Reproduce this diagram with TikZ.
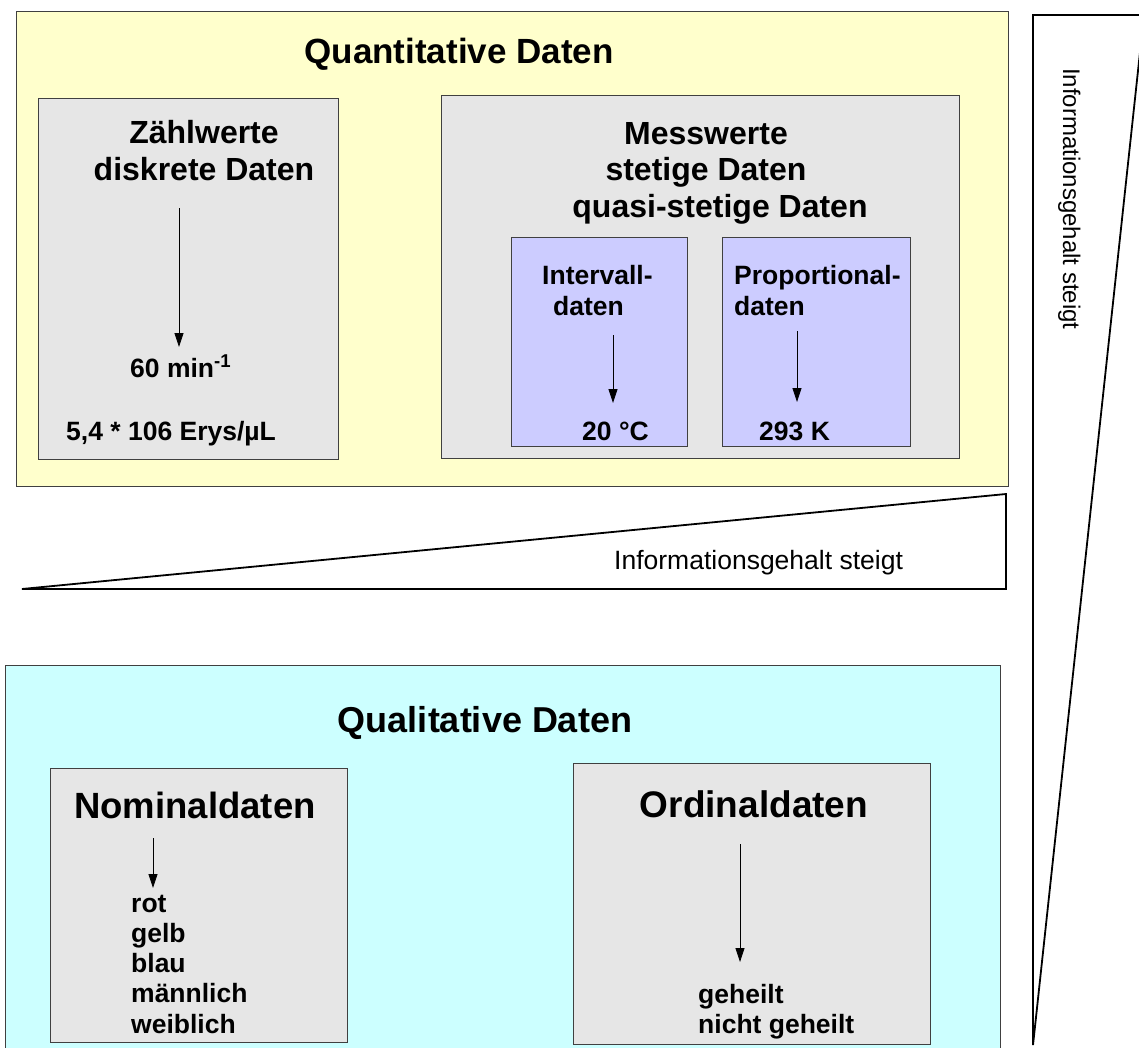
\documentclass[tikz,border=0pt]{standalone}
\usepackage{fontspec}
\setmainfont{Liberation Sans}
\usetikzlibrary{arrows.meta}

\definecolor{quantfill}{HTML}{FFFFCC}
\definecolor{qualfill}{HTML}{CCFFFF}
\definecolor{boxgrey}{HTML}{E6E6E6}
\definecolor{scalefill}{HTML}{CCCCFF}
\definecolor{edge}{HTML}{404040}

\begin{document}
\begin{tikzpicture}[x=1pt,y=-1pt,
  panel/.style={draw=edge, line width=1pt, inner sep=0pt, anchor=north west},
  title/.style={font=\fontsize{35}{40}\selectfont\bfseries, inner sep=0pt, anchor=base},
  head/.style={font=\fontsize{32}{36.5}\selectfont\bfseries, inner sep=0pt, align=center, anchor=base},
  label/.style={font=\fontsize{26.5}{30.5}\selectfont\bfseries, inner sep=0pt, align=left, anchor=base west},
  flow/.style={-{Triangle[length=14pt,width=9pt]}, line width=0.8pt},
  wedge/.style={draw=black, line width=1.8pt, line join=miter},
  note/.style={font=\fontsize{26.5}{30}\selectfont, inner sep=0pt}
]
\useasboundingbox (0,0) rectangle (1139,1047);
\clip (0,0) rectangle (1139,1047);

% ---- quantitative data ----
% (multi-line nodes are anchored at the baseline of their last line)
\node[panel, fill=quantfill, minimum width=992pt, minimum height=475pt] (quant) at (16,11) {};
\node[title] (quanttitle) at (459,63) {Quantitative Daten};

\node[panel, fill=boxgrey, minimum width=300pt, minimum height=361pt] (count) at (38,98) {};
\node[head] (counthead) at (204,180) {Zählwerte\\diskrete Daten};
\node[label] (countval) at (130,377) {60 min\textsuperscript{-1}};
\node[label] (countery) at (66,440) {5,4 * 106 Erys/µL};

\node[panel, fill=boxgrey, minimum width=518pt, minimum height=363pt] (measure) at (441,95) {};
\node[head] (measurehead) at (706,217) {Messwerte\\stetige Daten\\\hspace*{28pt}quasi-stetige Daten};

\node[panel, fill=scalefill, minimum width=176pt, minimum height=209pt] (interval) at (511,237) {};
\node[label] (intervalhead) at (542,315) {Intervall-\\\hspace*{11pt}daten};
\node[label] (intervalval) at (582,440) {20 °C};

\node[panel, fill=scalefill, minimum width=188pt, minimum height=209pt] (ratio) at (722,237) {};
\node[label] (ratiohead) at (734,315) {Proportional-\\daten};
\node[label] (ratioval) at (759,440) {293 K};

% ---- qualitative data ----
\node[panel, fill=qualfill, minimum width=995pt, minimum height=400pt] (qual) at (5,665) {};
\node[title, font=\fontsize{36}{41}\selectfont\bfseries] (qualtitle) at (485,732) {Qualitative Daten};

\node[panel, fill=boxgrey, minimum width=297pt, minimum height=274pt] (nominal) at (50,768) {};
\node[title, font=\fontsize{36.5}{41}\selectfont\bfseries] (nominalhead) at (195,818) {Nominaldaten};
\node[label, font=\fontsize{26.5}{30.25}\selectfont\bfseries] (nominalval) at (131,1033) {rot\\gelb\\blau\\männlich\\weiblich};

\node[panel, fill=boxgrey, minimum width=357pt, minimum height=281pt] (ordinal) at (573,763) {};
\node[title, font=\fontsize{37}{42}\selectfont\bfseries] (ordinalhead) at (754,817) {Ordinaldaten};
\node[label, font=\fontsize{26.5}{30}\selectfont\bfseries] (ordinalval) at (698,1033) {geheilt\\nicht geheilt};

% ---- arrows from category to example values ----
\coordinate (countA) at (179,208);  \coordinate (countB) at (179,347);
\coordinate (intA) at (613,335);    \coordinate (intB) at (613,403);
\coordinate (ratA) at (797,331);    \coordinate (ratB) at (797,402);
\coordinate (nomA) at (153,838);    \coordinate (nomB) at (153,888);
\coordinate (ordA) at (740,844);    \coordinate (ordB) at (740,962);
\draw[flow] (countA) -- (countB);
\draw[flow] (intA) -- (intB);
\draw[flow] (ratA) -- (ratB);
\draw[flow] (nomA) -- (nomB);
\draw[flow] (ordA) -- (ordB);

% ---- wedges: information content increases ----
\draw[wedge] (22,589) -- (1006,494) -- (1006,589) -- cycle;
\node[note, anchor=base west] (hnote) at (614,569) {Informationsgehalt steigt};

\draw[wedge] (1033,1045) -- (1033,15) -- (1144,15) -- cycle;
\node[note, font=\fontsize{24}{28}\selectfont, anchor=base west, rotate=-90] (vnote) at (1063,68) {Informationsgehalt steigt};
\end{tikzpicture}
\end{document}
